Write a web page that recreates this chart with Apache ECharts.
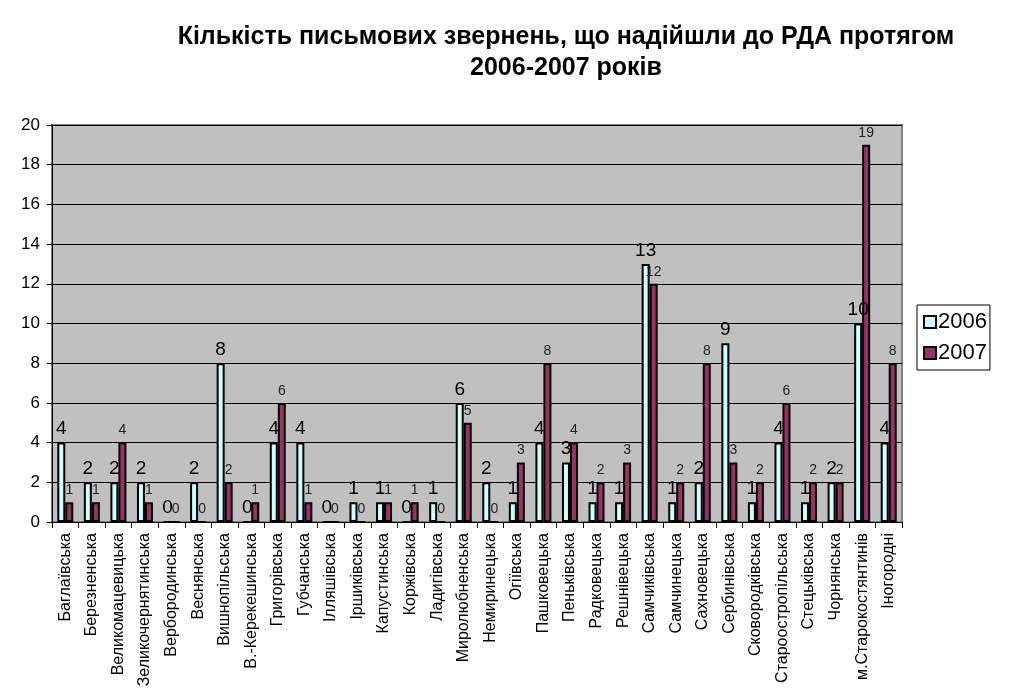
<!DOCTYPE html>
<html>
<head>
<meta charset="utf-8">
<script src="https://cdn.jsdelivr.net/npm/echarts@6/dist/echarts.min.js"></script>
<style>
html, body { margin: 0; padding: 0; background: #fff; }
#main { width: 1009px; height: 696px; }
</style>
</head>
<body>
<div id="main"></div>
<script>
var categories = ['Баглаївська', 'Березненська', 'Великомацевицька', 'Зеликочернятинська',
    'Вербородинська', 'Веснянська', 'Вишнопільська', 'В.-Керекешинська', 'Григорівська',
    'Губчанська', 'Ілляшівська', 'Іршиківська', 'Капустинська', 'Коржівська', 'Ладигівська',
    'Миролюбненська', 'Немиринецька', 'Огіївська', 'Пашковецька', 'Пеньківська',
    'Радковецька', 'Решнівецька', 'Самчиківська', 'Самчинецька', 'Сахновецька',
    'Сербинівська', 'Сковородківська', 'Староостропільська', 'Стецьківська', 'Чорнянська',
    'м.Старокостянтинів', 'Іногородні'];
var values2006 = [4, 2, 2, 2, 0, 2, 8, 0, 4, 4, 0, 1, 1, 0, 1, 6, 2, 1, 4, 3, 1, 1, 13, 1, 2, 9, 1, 4, 1, 2, 10, 4];
var values2007 = [1, 1, 4, 1, 0, 0, 2, 1, 6, 1, 0, 0, 1, 1, 0, 5, 0, 3, 8, 4, 2, 3, 12, 2, 8, 3, 2, 6, 2, 2, 19, 8];
var yTicks = { min: 0, max: 20, step: 2 };

var chart = echarts.init(document.getElementById('main'));

var option = {
    animation: false,
    textStyle: { fontFamily: 'Liberation Sans, Arial, sans-serif' },
    title: {
        text: 'Кількість письмових звернень, що надійшли до РДА протягом\n2006-2007 років',
        left: 561,
        top: 17,
        textAlign: 'center',
        textStyle: {
            fontSize: 25,
            fontWeight: 'bold',
            color: '#000',
            lineHeight: 31
        }
    },
    legend: {
        orient: 'vertical',
        left: 917,
        top: 305,
        width: 80,
        data: ['2006', '2007'],
        icon: 'rect',
        itemWidth: 12,
        itemHeight: 12,
        itemGap: 9,
        padding: [6, 3, 6, 6],
        borderColor: '#000',
        borderWidth: 1,
        textStyle: { fontSize: 22, color: '#000', padding: [0, 0, 0, -3] }
    },
    grid: {
        left: 52,
        right: 107,
        top: 125,
        bottom: 174,
        show: true,
        backgroundColor: '#c0c0c0',
        borderColor: '#808080',
        borderWidth: 2
    },
    xAxis: {
        type: 'category',
        data: categories,
        axisLine: { lineStyle: { color: '#000', width: 1 } },
        axisTick: { show: true, length: 6, lineStyle: { color: '#000' } },
        axisLabel: {
            interval: 0,
            rotate: 90,
            fontSize: 16,
            color: '#000',
            margin: 11
        }
    },
    yAxis: {
        type: 'value',
        min: yTicks.min,
        max: yTicks.max,
        interval: yTicks.step,
        axisLine: { show: true, lineStyle: { color: '#000' } },
        axisTick: { show: true, length: 5, lineStyle: { color: '#000' } },
        axisLabel: { fontSize: 17, color: '#000', margin: 12 },
        splitLine: { lineStyle: { color: '#000', width: 1 } }
    },
    series: [
        {
            name: '2006',
            type: 'bar',
            data: values2006,
            barWidth: 8,
            barGap: '0%',
            itemStyle: { color: '#ccffff', borderColor: '#000', borderWidth: 2 },
            label: {
                show: true,
                position: 'top',
                distance: 4,
                fontSize: 19,
                color: '#000'
            }
        },
        {
            name: '2007',
            type: 'bar',
            data: values2007,
            barWidth: 8,
            itemStyle: { color: '#993366', borderColor: '#000', borderWidth: 2 },
            label: {
                show: true,
                position: 'top',
                distance: 5,
                fontSize: 14,
                color: '#222'
            }
        }
    ]
};

chart.setOption(option);
</script>
</body>
</html>
